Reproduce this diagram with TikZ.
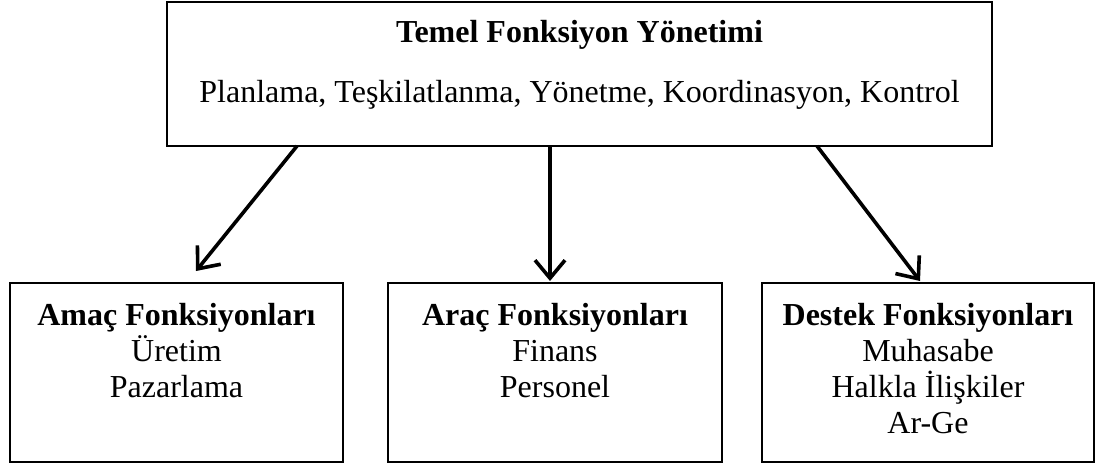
\documentclass[tikz,border=0pt]{standalone}
\usepackage{fontspec}
\setmainfont{Liberation Serif}
\usetikzlibrary{arrows.meta}
\tikzset{
  box/.style={draw, line width=2.5pt, inner sep=0pt},
  txt/.style={anchor=base, inner sep=0pt, font=\fontsize{32}{36}\selectfont},
  btxt/.style={txt, font=\fontsize{32}{36}\selectfont\bfseries},
  conn/.style={line width=3.6pt, -{Straight Barb[length=18pt,width=30pt,line width=3.6pt]}}
}
\begin{document}
\begin{tikzpicture}[x=1pt,y=-1pt]
\useasboundingbox (0,0) rectangle (1097,465);
\node[box, minimum width=825pt, minimum height=144pt] (top) at (579.5,74) {};
\node[box, minimum width=333pt, minimum height=179pt] (amac) at (176.5,372.5) {};
\node[box, minimum width=334pt, minimum height=179pt] (arac) at (555,372.5) {};
\node[box, minimum width=332pt, minimum height=179pt] (destek) at (928,372.5) {};

\node[btxt] (t1) at (579.5,43) {Temel Fonksiyon Yönetimi};
\node[txt] (t2) at (579.5,103) {Planlama, Teşkilatlanma, Yönetme, Koordinasyon, Kontrol};

\node[btxt] (a1) at (176.5,325) {Amaç Fonksiyonları};
\node[txt] (a2) at (176.5,361) {Üretim};
\node[txt] (a3) at (176.5,397) {Pazarlama};

\node[btxt] (b1) at (555,325) {Araç Fonksiyonları};
\node[txt] (b2) at (555,361) {Finans};
\node[txt] (b3) at (555,397) {Personel};

\node[btxt] (c1) at (928,325) {Destek Fonksiyonları};
\node[txt] (c2) at (928,361) {Muhasabe};
\node[txt] (c3) at (928,397) {Halkla İlişkiler};
\node[txt] (c4) at (928,433) {Ar-Ge};

\coordinate (s1) at (297,146);
\coordinate (e1) at (196,271);
\coordinate (s2) at (550,146);
\coordinate (e2) at (550,281);
\coordinate (s3) at (817,146);
\coordinate (e3) at (920,281);
\draw[conn] (s1) -- (e1);
\draw[conn] (s2) -- (e2);
\draw[conn] (s3) -- (e3);
\end{tikzpicture}
\end{document}
